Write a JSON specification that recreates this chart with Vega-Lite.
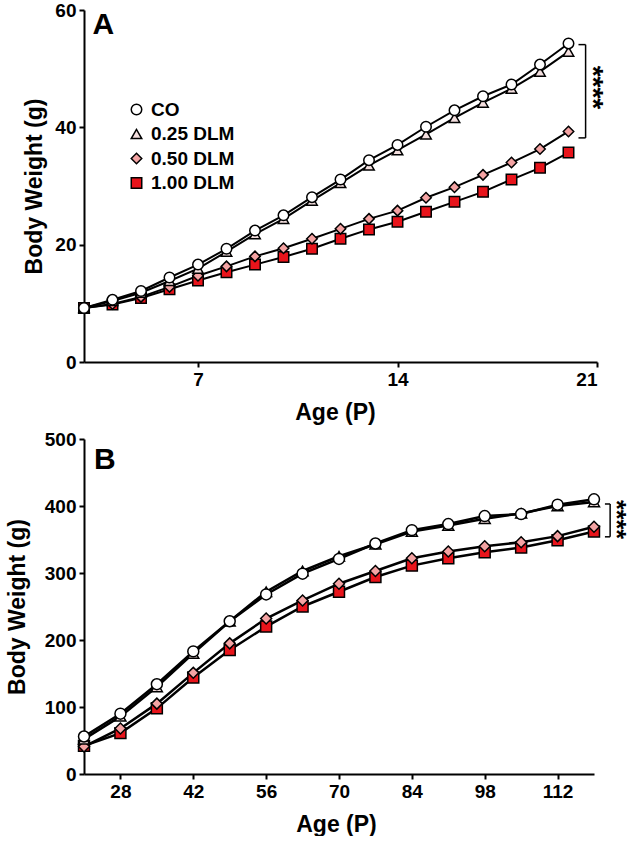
{
  "$schema": "https://vega.github.io/schema/vega-lite/v6.json",
  "padding": {"left": 6, "top": 1, "right": 6, "bottom": 0},
  "spacing": 6,
  "background": "white",
  "config": {
    "view": {"stroke": null},
    "font": "Liberation Sans",
    "axis": {
      "grid": false,
      "domainColor": "black",
      "domainWidth": 2,
      "tickColor": "black",
      "tickWidth": 2,
      "tickSize": 5,
      "labelFont": "Liberation Sans",
      "labelFontWeight": "bold",
      "labelFontSize": 19,
      "labelColor": "black",
      "labelPadding": 3,
      "titleFont": "Liberation Sans",
      "titleFontWeight": "bold",
      "titleFontSize": 23,
      "titleColor": "black"
    },
    "legend": {
      "title": null,
      "padding": 0,
      "labelFontSize": 19,
      "labelFontWeight": "bold",
      "labelColor": "black",
      "labelFont": "Liberation Sans",
      "symbolSize": 110,
      "symbolStrokeColor": "black",
      "symbolStrokeWidth": 1.5,
      "rowPadding": 4.5,
      "labelOffset": 5
    }
  },
  "datasets": {
    "a": [
      {"age": 3, "group": "1.00 DLM", "weight": 9.2}, {"age": 4, "group": "1.00 DLM", "weight": 9.8}, {"age": 5, "group": "1.00 DLM", "weight": 10.9}, {"age": 6, "group": "1.00 DLM", "weight": 12.4}, {"age": 7, "group": "1.00 DLM", "weight": 13.9}, {"age": 8, "group": "1.00 DLM", "weight": 15.3}, {"age": 9, "group": "1.00 DLM", "weight": 16.6}, {"age": 10, "group": "1.00 DLM", "weight": 17.9}, {"age": 11, "group": "1.00 DLM", "weight": 19.3}, {"age": 12, "group": "1.00 DLM", "weight": 21.0}, {"age": 13, "group": "1.00 DLM", "weight": 22.6}, {"age": 14, "group": "1.00 DLM", "weight": 23.9}, {"age": 15, "group": "1.00 DLM", "weight": 25.6}, {"age": 16, "group": "1.00 DLM", "weight": 27.3}, {"age": 17, "group": "1.00 DLM", "weight": 29.0}, {"age": 18, "group": "1.00 DLM", "weight": 31.1}, {"age": 19, "group": "1.00 DLM", "weight": 33.1}, {"age": 20, "group": "1.00 DLM", "weight": 35.7},
      {"age": 3, "group": "0.50 DLM", "weight": 9.2}, {"age": 4, "group": "0.50 DLM", "weight": 9.9}, {"age": 5, "group": "0.50 DLM", "weight": 11.1}, {"age": 6, "group": "0.50 DLM", "weight": 12.8}, {"age": 7, "group": "0.50 DLM", "weight": 14.7}, {"age": 8, "group": "0.50 DLM", "weight": 16.3}, {"age": 9, "group": "0.50 DLM", "weight": 18.0}, {"age": 10, "group": "0.50 DLM", "weight": 19.4}, {"age": 11, "group": "0.50 DLM", "weight": 21.0}, {"age": 12, "group": "0.50 DLM", "weight": 22.7}, {"age": 13, "group": "0.50 DLM", "weight": 24.4}, {"age": 14, "group": "0.50 DLM", "weight": 25.8}, {"age": 15, "group": "0.50 DLM", "weight": 28.0}, {"age": 16, "group": "0.50 DLM", "weight": 29.8}, {"age": 17, "group": "0.50 DLM", "weight": 31.9}, {"age": 18, "group": "0.50 DLM", "weight": 34.0}, {"age": 19, "group": "0.50 DLM", "weight": 36.3}, {"age": 20, "group": "0.50 DLM", "weight": 39.3},
      {"age": 3, "group": "0.25 DLM", "weight": 9.2}, {"age": 4, "group": "0.25 DLM", "weight": 10.4}, {"age": 5, "group": "0.25 DLM", "weight": 11.8}, {"age": 6, "group": "0.25 DLM", "weight": 13.8}, {"age": 7, "group": "0.25 DLM", "weight": 15.9}, {"age": 8, "group": "0.25 DLM", "weight": 18.8}, {"age": 9, "group": "0.25 DLM", "weight": 21.8}, {"age": 10, "group": "0.25 DLM", "weight": 24.4}, {"age": 11, "group": "0.25 DLM", "weight": 27.5}, {"age": 12, "group": "0.25 DLM", "weight": 30.5}, {"age": 13, "group": "0.25 DLM", "weight": 33.5}, {"age": 14, "group": "0.25 DLM", "weight": 36.1}, {"age": 15, "group": "0.25 DLM", "weight": 38.8}, {"age": 16, "group": "0.25 DLM", "weight": 41.6}, {"age": 17, "group": "0.25 DLM", "weight": 44.2}, {"age": 18, "group": "0.25 DLM", "weight": 46.6}, {"age": 19, "group": "0.25 DLM", "weight": 49.5}, {"age": 20, "group": "0.25 DLM", "weight": 52.9},
      {"age": 3, "group": "CO", "weight": 9.2}, {"age": 4, "group": "CO", "weight": 10.6}, {"age": 5, "group": "CO", "weight": 12.1}, {"age": 6, "group": "CO", "weight": 14.4}, {"age": 7, "group": "CO", "weight": 16.6}, {"age": 8, "group": "CO", "weight": 19.3}, {"age": 9, "group": "CO", "weight": 22.4}, {"age": 10, "group": "CO", "weight": 25.0}, {"age": 11, "group": "CO", "weight": 28.1}, {"age": 12, "group": "CO", "weight": 31.1}, {"age": 13, "group": "CO", "weight": 34.4}, {"age": 14, "group": "CO", "weight": 37.0}, {"age": 15, "group": "CO", "weight": 40.1}, {"age": 16, "group": "CO", "weight": 42.9}, {"age": 17, "group": "CO", "weight": 45.3}, {"age": 18, "group": "CO", "weight": 47.3}, {"age": 19, "group": "CO", "weight": 50.7}, {"age": 20, "group": "CO", "weight": 54.3}
    ],
    "b": [
      {"age": 21, "group": "1.00 DLM", "weight": 42}, {"age": 28, "group": "1.00 DLM", "weight": 61}, {"age": 35, "group": "1.00 DLM", "weight": 98}, {"age": 42, "group": "1.00 DLM", "weight": 144}, {"age": 49, "group": "1.00 DLM", "weight": 185}, {"age": 56, "group": "1.00 DLM", "weight": 220}, {"age": 63, "group": "1.00 DLM", "weight": 250}, {"age": 70, "group": "1.00 DLM", "weight": 272}, {"age": 77, "group": "1.00 DLM", "weight": 294}, {"age": 84, "group": "1.00 DLM", "weight": 311}, {"age": 91, "group": "1.00 DLM", "weight": 322}, {"age": 98, "group": "1.00 DLM", "weight": 331}, {"age": 105, "group": "1.00 DLM", "weight": 338}, {"age": 112, "group": "1.00 DLM", "weight": 349}, {"age": 119, "group": "1.00 DLM", "weight": 362},
      {"age": 21, "group": "0.50 DLM", "weight": 41}, {"age": 28, "group": "0.50 DLM", "weight": 68}, {"age": 35, "group": "0.50 DLM", "weight": 105}, {"age": 42, "group": "0.50 DLM", "weight": 151}, {"age": 49, "group": "0.50 DLM", "weight": 195}, {"age": 56, "group": "0.50 DLM", "weight": 232}, {"age": 63, "group": "0.50 DLM", "weight": 259}, {"age": 70, "group": "0.50 DLM", "weight": 284}, {"age": 77, "group": "0.50 DLM", "weight": 303}, {"age": 84, "group": "0.50 DLM", "weight": 322}, {"age": 91, "group": "0.50 DLM", "weight": 332}, {"age": 98, "group": "0.50 DLM", "weight": 340}, {"age": 105, "group": "0.50 DLM", "weight": 346}, {"age": 112, "group": "0.50 DLM", "weight": 355}, {"age": 119, "group": "0.50 DLM", "weight": 369},
      {"age": 21, "group": "0.25 DLM", "weight": 52}, {"age": 28, "group": "0.25 DLM", "weight": 86}, {"age": 35, "group": "0.25 DLM", "weight": 130}, {"age": 42, "group": "0.25 DLM", "weight": 180}, {"age": 49, "group": "0.25 DLM", "weight": 228}, {"age": 56, "group": "0.25 DLM", "weight": 272}, {"age": 63, "group": "0.25 DLM", "weight": 303}, {"age": 70, "group": "0.25 DLM", "weight": 325}, {"age": 77, "group": "0.25 DLM", "weight": 343}, {"age": 84, "group": "0.25 DLM", "weight": 362}, {"age": 91, "group": "0.25 DLM", "weight": 371}, {"age": 98, "group": "0.25 DLM", "weight": 381}, {"age": 105, "group": "0.25 DLM", "weight": 389}, {"age": 112, "group": "0.25 DLM", "weight": 400}, {"age": 119, "group": "0.25 DLM", "weight": 406},
      {"age": 21, "group": "CO", "weight": 56}, {"age": 28, "group": "CO", "weight": 90}, {"age": 35, "group": "CO", "weight": 134}, {"age": 42, "group": "CO", "weight": 183}, {"age": 49, "group": "CO", "weight": 228}, {"age": 56, "group": "CO", "weight": 268}, {"age": 63, "group": "CO", "weight": 299}, {"age": 70, "group": "CO", "weight": 321}, {"age": 77, "group": "CO", "weight": 344}, {"age": 84, "group": "CO", "weight": 364}, {"age": 91, "group": "CO", "weight": 373}, {"age": 98, "group": "CO", "weight": 385}, {"age": 105, "group": "CO", "weight": 388}, {"age": 112, "group": "CO", "weight": 402}, {"age": 119, "group": "CO", "weight": 410}
    ]
  },
  "vconcat": [
    {
      "width": 513,
      "height": 352,
      "layer": [
        {
          "data": {"name": "a"},
          "mark": {"type": "line", "color": "black", "strokeWidth": 2},
          "encoding": {
            "x": {"field": "age", "type": "quantitative", "scale": {"domain": [3, 21], "nice": false, "zero": false}, "axis": {"values": [7, 14, 21], "title": "Age (P)", "titlePadding": 12, "titleX": 251}},
            "y": {"field": "weight", "type": "quantitative", "scale": {"domain": [0, 60], "nice": false}, "axis": {"values": [0, 20, 40, 60], "title": "Body Weight (g)", "titlePadding": 8}},
            "detail": {"field": "group"}
          }
        },
        {
          "data": {"name": "a"},
          "mark": {"type": "point", "filled": true, "strokeWidth": 1.5, "opacity": 1},
          "encoding": {
            "x": {"field": "age", "type": "quantitative", "scale": {"domain": [3, 21], "nice": false, "zero": false}},
            "y": {"field": "weight", "type": "quantitative", "scale": {"domain": [0, 60], "nice": false}},
            "fill": {"field": "group", "type": "nominal", "scale": {"domain": ["CO", "0.25 DLM", "0.50 DLM", "1.00 DLM"], "range": ["#ffffff", "#f3dede", "#f4a3a3", "#e8141b"]},
              "legend": {"orient": "none", "legendX": 43, "legendY": 90}},
            "shape": {"field": "group", "type": "nominal", "scale": {"domain": ["CO", "0.25 DLM", "0.50 DLM", "1.00 DLM"], "range": ["circle", "triangle-up", "diamond", "square"]},
              "legend": {"orient": "none", "legendX": 43, "legendY": 90}},
            "stroke": {"field": "group", "type": "nominal", "scale": {"domain": ["CO", "0.25 DLM", "0.50 DLM", "1.00 DLM"], "range": ["black", "black", "black", "black"]},
              "legend": {"orient": "none", "legendX": 43, "legendY": 90}},
            "size": {"value": 110}
          }
        },
        {
          "data": {"values": [{"x": 20.6, "x2": 20.6, "y": 54.1, "y2": 38.2}, {"x": 20.35, "x2": 20.6, "y": 54.1, "y2": 54.1}, {"x": 20.35, "x2": 20.6, "y": 38.2, "y2": 38.2}]},
          "mark": {"type": "rule", "color": "black", "strokeWidth": 1.5, "clip": false},
          "encoding": {
            "x": {"field": "x", "type": "quantitative", "scale": {"domain": [3, 21], "nice": false, "zero": false}},
            "x2": {"field": "x2"},
            "y": {"field": "y", "type": "quantitative", "scale": {"domain": [0, 60], "nice": false}},
            "y2": {"field": "y2"}
          }
        },
        {
          "data": {"values": [{"x": 21.32, "y": 46.8, "label": "****"}]},
          "mark": {"type": "text", "angle": 90, "fontSize": 28, "fontWeight": "bold", "align": "center", "baseline": "top", "color": "black"},
          "encoding": {
            "x": {"field": "x", "type": "quantitative", "scale": {"domain": [3, 21], "nice": false, "zero": false}},
            "y": {"field": "y", "type": "quantitative", "scale": {"domain": [0, 60], "nice": false}},
            "text": {"field": "label"}
          }
        },
        {
          "data": {"values": [{"x": 3.3, "y": 55.9, "label": "A"}]},
          "mark": {"type": "text", "fontSize": 30, "fontWeight": "bold", "align": "left", "baseline": "alphabetic", "color": "black"},
          "encoding": {
            "x": {"field": "x", "type": "quantitative", "scale": {"domain": [3, 21], "nice": false, "zero": false}},
            "y": {"field": "y", "type": "quantitative", "scale": {"domain": [0, 60], "nice": false}},
            "text": {"field": "label"}
          }
        }
      ]
    },
    {
      "width": 510,
      "height": 335,
      "layer": [
        {
          "data": {"name": "b"},
          "mark": {"type": "line", "color": "black", "strokeWidth": 2.5},
          "encoding": {
            "x": {"field": "age", "type": "quantitative", "scale": {"domain": [21, 119], "nice": false, "zero": false}, "axis": {"values": [28, 42, 56, 70, 84, 98, 112], "title": "Age (P)", "titlePadding": 12, "titleX": 252}},
            "y": {"field": "weight", "type": "quantitative", "scale": {"domain": [0, 500], "nice": false}, "axis": {"values": [0, 100, 200, 300, 400, 500], "title": "Body Weight (g)", "titlePadding": 15}},
            "detail": {"field": "group"}
          }
        },
        {
          "data": {"name": "b"},
          "mark": {"type": "point", "filled": true, "stroke": "black", "strokeWidth": 1.5, "opacity": 1},
          "encoding": {
            "x": {"field": "age", "type": "quantitative", "scale": {"domain": [21, 119], "nice": false, "zero": false}},
            "y": {"field": "weight", "type": "quantitative", "scale": {"domain": [0, 500], "nice": false}},
            "fill": {"field": "group", "type": "nominal", "scale": {"domain": ["CO", "0.25 DLM", "0.50 DLM", "1.00 DLM"], "range": ["#ffffff", "#f3dede", "#f4a3a3", "#e8141b"]}, "legend": null},
            "shape": {"field": "group", "type": "nominal", "scale": {"domain": ["CO", "0.25 DLM", "0.50 DLM", "1.00 DLM"], "range": ["circle", "triangle-up", "diamond", "square"]}, "legend": null},
            "size": {"value": 120}
          }
        },
        {
          "data": {"values": [{"x": 122.1, "x2": 122.1, "y": 403, "y2": 354}, {"x": 121.1, "x2": 122.1, "y": 403, "y2": 403}, {"x": 121.1, "x2": 122.1, "y": 354, "y2": 354}]},
          "mark": {"type": "rule", "color": "black", "strokeWidth": 1.5, "clip": false},
          "encoding": {
            "x": {"field": "x", "type": "quantitative", "scale": {"domain": [21, 119], "nice": false, "zero": false}},
            "x2": {"field": "x2"},
            "y": {"field": "y", "type": "quantitative", "scale": {"domain": [0, 500], "nice": false}},
            "y2": {"field": "y2"}
          }
        },
        {
          "data": {"values": [{"x": 125.6, "y": 380, "label": "****"}]},
          "mark": {"type": "text", "angle": 90, "fontSize": 25, "fontWeight": "bold", "align": "center", "baseline": "top", "color": "black"},
          "encoding": {
            "x": {"field": "x", "type": "quantitative", "scale": {"domain": [21, 119], "nice": false, "zero": false}},
            "y": {"field": "y", "type": "quantitative", "scale": {"domain": [0, 500], "nice": false}},
            "text": {"field": "label"}
          }
        },
        {
          "data": {"values": [{"x": 22.9, "y": 455, "label": "B"}]},
          "mark": {"type": "text", "fontSize": 30, "fontWeight": "bold", "align": "left", "baseline": "alphabetic", "color": "black"},
          "encoding": {
            "x": {"field": "x", "type": "quantitative", "scale": {"domain": [21, 119], "nice": false, "zero": false}},
            "y": {"field": "y", "type": "quantitative", "scale": {"domain": [0, 500], "nice": false}},
            "text": {"field": "label"}
          }
        }
      ]
    }
  ],
  "resolve": {"scale": {"fill": "independent", "shape": "independent", "stroke": "independent"}}
}
